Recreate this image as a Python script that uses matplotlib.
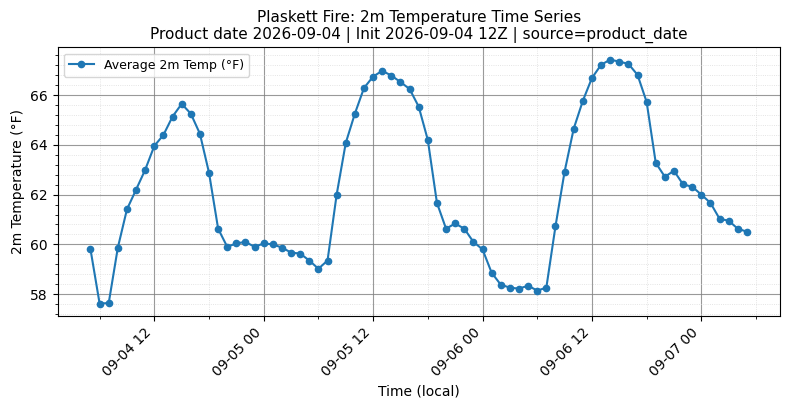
import numpy as np
import pandas as pd
import matplotlib
matplotlib.use('Agg')
import matplotlib.pyplot as plt
import matplotlib.dates as mdates
from matplotlib.ticker import AutoMinorLocator

# hourly local times, 2026-09-04 05:00 .. 2026-09-07 05:00
start_time = '2026-09-04 05:00'
n_hours = 73

temp_f = [
    59.80, 57.62, 57.64, 59.87, 61.41, 62.20, 63.00, 63.96, 64.40, 65.14,
    65.65, 65.26, 64.45, 62.88, 60.63, 59.90, 60.04, 60.10, 59.90, 60.04,
    60.00, 59.87, 59.67, 59.63, 59.35, 59.02, 59.35, 62.00, 64.08, 65.26,
    66.29, 66.75, 66.98, 66.79, 66.53, 66.25, 65.54, 64.20, 61.67, 60.63,
    60.84, 60.63, 60.10, 59.80, 58.86, 58.38, 58.26, 58.22, 58.34, 58.14,
    58.26, 60.72, 62.92, 64.65, 65.77, 66.69, 67.22, 67.43, 67.35, 67.26,
    66.82, 65.73, 63.28, 62.72, 62.96, 62.41, 62.32, 62.00, 61.67, 61.03,
    60.95, 60.63, 60.51,
]

times = pd.date_range(start_time, periods=n_hours, freq='h')
df = pd.DataFrame({'time': times, 'temp': temp_f})

fig, ax = plt.subplots(figsize=(7.9, 4.09), dpi=100)
fig.subplots_adjust(left=0.073, right=0.987, top=0.884, bottom=0.228)

ax.plot(df['time'], df['temp'], marker='o', markersize=4.5, linewidth=1.5,
        color='#1f77b4', label='Average 2m Temp (°F)')

ax.set_title('Plaskett Fire: 2m Temperature Time Series\n'
             'Product date 2026-09-04 | Init 2026-09-04 12Z | source=product_date',
             fontsize=11)
ax.set_xlabel('Time (local)')
ax.set_ylabel('2m Temperature (°F)')

ax.xaxis.set_major_locator(mdates.HourLocator(byhour=[0, 12]))
ax.xaxis.set_minor_locator(mdates.HourLocator(byhour=[6, 18]))
ax.xaxis.set_major_formatter(mdates.DateFormatter('%m-%d %H'))
ax.yaxis.set_minor_locator(AutoMinorLocator(5))

ax.grid(which='major', color='gray', linewidth=0.8, alpha=0.8)
ax.grid(which='minor', color='lightgray', linestyle=':', linewidth=0.6, alpha=0.8)

plt.setp(ax.get_xticklabels(), rotation=45, ha='right')
ax.legend(loc='upper left', fontsize=9)

fig.savefig('out.png', dpi=100)
